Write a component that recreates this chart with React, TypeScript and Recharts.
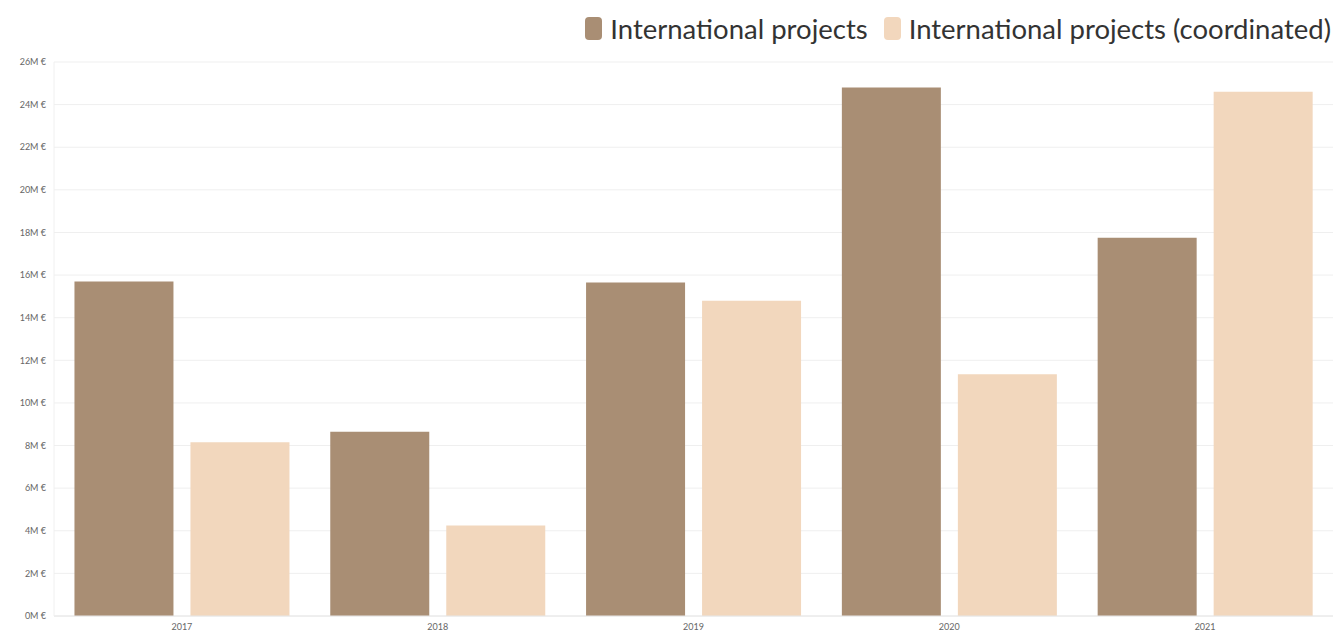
import { Bar, BarChart, CartesianGrid, XAxis, YAxis } from "recharts";

const years = ["2017", "2018", "2019", "2020", "2021"];
const international = [15.7, 8.65, 15.65, 24.8, 17.75];
const coordinated = [8.15, 4.25, 14.8, 11.35, 24.6];
const yTicks = [0, 2, 4, 6, 8, 10, 12, 14, 16, 18, 20, 22, 24, 26];

const seriesNames = ["International projects", "International projects (coordinated)"];
const colors = { international: "#a98e74", coordinated: "#f2d7bd", grid: "#efefef", tick: "#666" };

const data = years.map((year, i) => ({
  year,
  international: international[i],
  coordinated: coordinated[i],
}));

const tickStyle = { fontSize: 9, fill: colors.tick, fontFamily: "Lato, sans-serif" };

export default function App() {
  return (
    <div style={{ position: "absolute", left: 0, top: 0, width: 1337, height: 633, background: "#fff" }}>
      <div
        style={{
          position: "absolute",
          right: 6,
          top: 12,
          display: "flex",
          alignItems: "center",
          fontFamily: "Lato, sans-serif",
          fontSize: 27.5,
          color: "#333",
          whiteSpace: "nowrap",
        }}
      >
        {seriesNames.map((name, i) => (
          <span key={name} style={{ display: "flex", alignItems: "center", marginLeft: i ? 16 : 0 }}>
            <span
              style={{
                display: "inline-block",
                width: 17,
                height: 23,
                borderRadius: 4,
                marginRight: 8,
                background: i ? colors.coordinated : colors.international,
              }}
            />
            {name}
          </span>
        ))}
      </div>
      <BarChart
        width={1337}
        height={633}
        data={data}
        margin={{ top: 62, right: 4, bottom: 0, left: 0 }}
        barCategoryGap="8%"
        barGap={17}
      >
        <CartesianGrid stroke={colors.grid} vertical={false} />
        <XAxis
          dataKey="year"
          height={17}
          tick={tickStyle}
          tickLine={false}
          axisLine={{ stroke: "#e6e6e6" }}
          tickMargin={2}
        />
        <YAxis
          width={54}
          domain={[0, 26]}
          ticks={yTicks}
          interval={0}
          tick={tickStyle}
          tickLine={false}
          axisLine={{ stroke: "#f0f0f0" }}
          tickFormatter={(v) => `${v}M €`}
        />
        <Bar dataKey="international" fill={colors.international} isAnimationActive={false} />
        <Bar dataKey="coordinated" fill={colors.coordinated} isAnimationActive={false} />
      </BarChart>
    </div>
  );
}
